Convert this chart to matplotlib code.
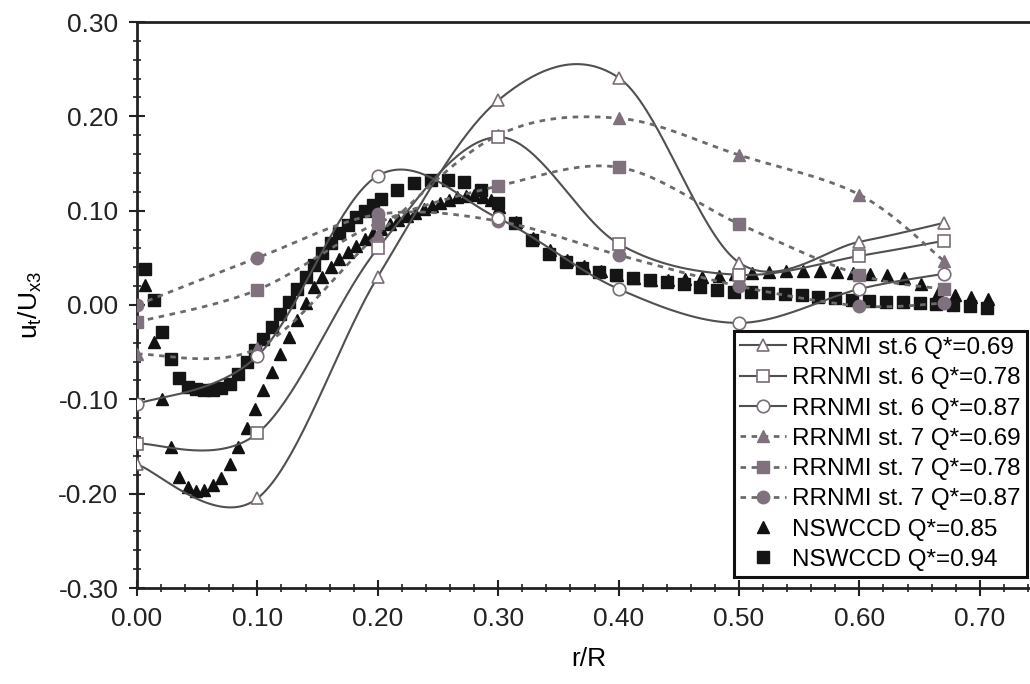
import numpy as np
import matplotlib
matplotlib.use("Agg")
import matplotlib.pyplot as plt
from matplotlib.ticker import MultipleLocator, FormatStrFormatter

plt.rcParams['font.family'] = ['Liberation Sans', 'DejaVu Sans']
plt.rcParams['mathtext.fontset'] = 'custom'
plt.rcParams['mathtext.rm'] = 'Liberation Sans'
plt.rcParams['mathtext.it'] = 'Liberation Sans'

# RRNMI stations (smoothed lines through the points)
r_rrnmi = [0.0, 0.1, 0.2, 0.3, 0.4, 0.5, 0.6, 0.67]
st6_069 = [-0.169, -0.205, 0.030, 0.217, 0.241, 0.045, 0.067, 0.087]
st6_078 = [-0.147, -0.136, 0.060, 0.178, 0.065, 0.032, 0.052, 0.068]
st6_087 = [-0.105, -0.054, 0.137, 0.092, 0.017, -0.019, 0.017, 0.033]
st7_069 = [-0.052, -0.046, 0.075, 0.180, 0.198, 0.159, 0.117, 0.047]
st7_078 = [-0.018, 0.016, 0.087, 0.126, 0.146, 0.086, 0.032, 0.017]
st7_087 = [0.000, 0.050, 0.096, 0.089, 0.053, 0.020, -0.001, 0.002]

# NSWCCD Q*=0.85 (triangles)
r_n085 = [0.007, 0.014, 0.021, 0.028, 0.035, 0.042, 0.049, 0.056, 0.063, 0.070,
          0.077, 0.084, 0.091, 0.098, 0.105, 0.112, 0.119, 0.126, 0.133, 0.140,
          0.147, 0.154, 0.161, 0.168, 0.175, 0.182, 0.189, 0.196, 0.203, 0.210,
          0.217, 0.224, 0.231, 0.238, 0.245, 0.252, 0.259, 0.266, 0.273, 0.280,
          0.287, 0.294, 0.301,
          0.315, 0.329, 0.343, 0.357, 0.371, 0.385, 0.399, 0.413, 0.427, 0.441,
          0.455, 0.469, 0.483, 0.497, 0.511, 0.525, 0.539, 0.553, 0.567, 0.581,
          0.595, 0.609, 0.623, 0.637, 0.651, 0.665, 0.679, 0.693, 0.707]
n085 = [0.021, -0.039, -0.100, -0.150, -0.182, -0.193, -0.197, -0.196, -0.191, -0.183,
        -0.169, -0.151, -0.130, -0.110, -0.090, -0.071, -0.052, -0.034, -0.016, 0.002,
        0.019, 0.030, 0.040, 0.049, 0.056, 0.063, 0.070, 0.076, 0.081, 0.086,
        0.090, 0.094, 0.098, 0.102, 0.105, 0.108, 0.111, 0.114, 0.116, 0.117,
        0.115, 0.111, 0.104,
        0.088, 0.071, 0.058, 0.048, 0.041, 0.036, 0.032, 0.029, 0.027, 0.027,
        0.028, 0.030, 0.031, 0.033, 0.034, 0.035, 0.036, 0.036, 0.036, 0.035,
        0.034, 0.033, 0.032, 0.029, 0.022, 0.013, 0.011, 0.008, 0.006]

# NSWCCD Q*=0.94 (squares)
r_n094 = [0.007, 0.014, 0.021, 0.028, 0.035, 0.042, 0.049, 0.056, 0.063, 0.070,
          0.077, 0.084, 0.091, 0.098, 0.105, 0.112, 0.119, 0.126, 0.133, 0.140,
          0.147, 0.154, 0.161, 0.168, 0.175, 0.182, 0.189, 0.196, 0.203,
          0.216, 0.230, 0.244, 0.258, 0.272, 0.286, 0.300, 0.314, 0.328, 0.342,
          0.356, 0.370, 0.384, 0.398, 0.412, 0.426, 0.440, 0.454, 0.468, 0.482,
          0.496, 0.510, 0.524, 0.538, 0.552, 0.566, 0.580, 0.594, 0.608, 0.622,
          0.636, 0.650, 0.664, 0.678, 0.692, 0.706]
n094 = [0.038, 0.005, -0.029, -0.057, -0.077, -0.087, -0.089, -0.090, -0.090, -0.088,
        -0.084, -0.073, -0.060, -0.048, -0.036, -0.023, -0.010, 0.003, 0.017, 0.030,
        0.042, 0.055, 0.066, 0.076, 0.085, 0.093, 0.100, 0.106, 0.112,
        0.122, 0.129, 0.133, 0.133, 0.130, 0.122, 0.108, 0.087, 0.069, 0.054,
        0.046, 0.039, 0.035, 0.032, 0.029, 0.026, 0.024, 0.022, 0.019, 0.016,
        0.014, 0.014, 0.013, 0.012, 0.011, 0.009, 0.007, 0.005, 0.004, 0.003,
        0.003, 0.002, 0.001, 0.000, -0.001, -0.003]


def smooth(xs, ys, n=40):
    # excel-like smoothed line (catmull-rom bezier)
    p = np.column_stack([xs, ys]).astype(float)
    out = []
    for i in range(len(p) - 1):
        p0 = p[max(i - 1, 0)]
        p1 = p[i]
        p2 = p[i + 1]
        p3 = p[min(i + 2, len(p) - 1)]
        c1 = p1 + (p2 - p0) / 6
        c2 = p2 - (p3 - p1) / 6
        t = np.linspace(0, 1, n)[:, None]
        out.append((1 - t)**3 * p1 + 3 * (1 - t)**2 * t * c1 + 3 * (1 - t) * t**2 * c2 + t**3 * p2)
    return np.vstack(out)


fig = plt.figure(figsize=(10.3, 6.84), dpi=100)
ax = fig.add_axes([137 / 1030, 1 - 588 / 684, (1040 - 137) / 1030, (588 - 22) / 684])

line6 = '#505050'
line7 = '#6a6a6a'
edge6 = '#7a6d78'
fill7 = '#7f717d'

ax.plot(r_n085, n085, ls='none', marker='^', ms=8.5, color='#111111', zorder=3,
        label='NSWCCD Q*=0.85')
ax.plot(r_n094, n094, ls='none', marker='s', ms=8, color='#151515', zorder=3,
        label='NSWCCD Q*=0.94')

series = [
    (st6_069, '^', '-', 'RRNMI st.6 Q*=0.69'),
    (st6_078, 's', '-', 'RRNMI st. 6 Q*=0.78'),
    (st6_087, 'o', '-', 'RRNMI st. 6 Q*=0.87'),
    (st7_069, '^', '--', 'RRNMI st. 7 Q*=0.69'),
    (st7_078, 's', '--', 'RRNMI st. 7 Q*=0.78'),
    (st7_087, 'o', '--', 'RRNMI st. 7 Q*=0.87'),
]
handles = {}
for vals, mk, ls, lab in series:
    curve = smooth(r_rrnmi, vals)
    if ls == '-':
        ax.plot(curve[:, 0], curve[:, 1], color=line6, lw=1.5, zorder=4)
        ax.plot(r_rrnmi, vals, ls='none', marker=mk, ms=9, mfc='white', mec=edge6,
                mew=1.2, zorder=6)
        h, = ax.plot([], [], color=line6, lw=1.5, marker=mk, ms=9, mfc='white',
                     mec=edge6, mew=1.2, label=lab)
    else:
        ax.plot(curve[:, 0], curve[:, 1], color=line7, lw=2, ls=(0, (2, 2)), zorder=4)
        ax.plot(r_rrnmi, vals, ls='none', marker=mk, ms=9, mfc=fill7, mec=fill7,
                zorder=5)
        h, = ax.plot([], [], color=line7, lw=2, ls=(0, (2, 2)), marker=mk, ms=9,
                     mfc=fill7, mec=fill7, label=lab)
    handles[lab] = h

ax.set_xlim(0, 0.75)
ax.set_ylim(-0.30, 0.30)
ax.xaxis.set_major_locator(MultipleLocator(0.1))
ax.xaxis.set_minor_locator(MultipleLocator(0.02))
ax.yaxis.set_major_locator(MultipleLocator(0.1))
ax.yaxis.set_minor_locator(MultipleLocator(0.02))
ax.xaxis.set_major_formatter(FormatStrFormatter('%.2f'))
ax.yaxis.set_major_formatter(FormatStrFormatter('%.2f'))
ax.tick_params(which='major', direction='inout', length=11, width=1.5, labelsize=19,
               colors='#222222', pad=8)
ax.tick_params(which='minor', direction='inout', length=6, width=1.2, colors='#222222')
for s in ax.spines.values():
    s.set_linewidth(2)
    s.set_color('#222222')

ax.set_xlabel('r/R', fontsize=19, labelpad=12)
ax.set_ylabel(r'$\mathregular{u_t/U_{x3}}$', fontsize=19, labelpad=10)

order = [s[3] for s in series]
hl = [handles[k] for k in order] + ax.get_lines()[:2]
leg = ax.legend(hl, order + ['NSWCCD Q*=0.85', 'NSWCCD Q*=0.94'], loc='lower right',
                bbox_to_anchor=(1027 / 1030, 1 - 577 / 684), bbox_transform=fig.transFigure,
                borderaxespad=0, fontsize=17.5, frameon=True, fancybox=False,
                handlelength=1.9, handletextpad=0.25, labelspacing=0.34,
                borderpad=0.25, framealpha=1)
leg.get_frame().set_edgecolor('#111111')
leg.get_frame().set_linewidth(2.2)
leg.set_zorder(10)

fig.savefig('out.png', dpi=100)
